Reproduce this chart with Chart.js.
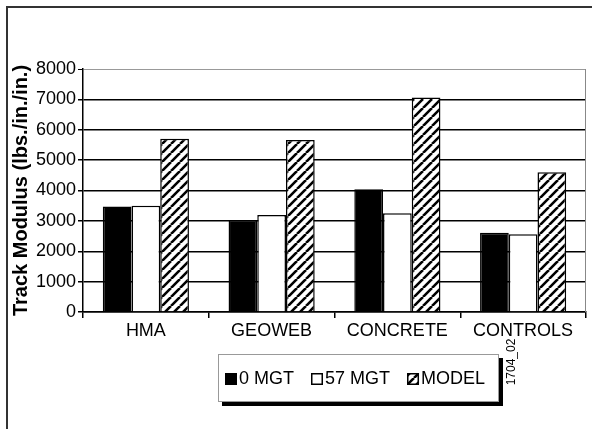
<!DOCTYPE html>
<html>
<head>
<meta charset="utf-8">
<title>Track Modulus</title>
<script src="https://cdn.jsdelivr.net/npm/chart.js@4/dist/chart.umd.min.js"></script>
<style>
    html, body { margin: 0; padding: 0; background: #fff; }
    #wrap { width: 592px; height: 429px; }
</style>
</head>
<body>
<div id="wrap"><canvas id="chart" width="592" height="429"></canvas></div>
<script>
// Chart data
const categories = ['HMA', 'GEOWEB', 'CONCRETE', 'CONTROLS'];
const seriesLabels = ['0 MGT', '57 MGT', 'MODEL'];
const mgt0Values = [3470, 3030, 4040, 2610];
const mgt57Values = [3500, 3190, 3250, 2560];
const modelValues = [5700, 5660, 7060, 4600];
const yTickValues = [0, 1000, 2000, 3000, 4000, 5000, 6000, 7000, 8000];
const yTitle = 'Track Modulus (lbs./in./in.)';
const figureId = '1704_02';

(function() {
    'use strict';

    const FONT = 'Arial, "Liberation Sans", sans-serif';

    // Diagonal hatch used for the MODEL bars
    function makeHatch() {
        const size = 9;
        const c = document.createElement('canvas');
        c.width = size;
        c.height = size;
        const g = c.getContext('2d');
        g.fillStyle = '#fff';
        g.fillRect(0, 0, size, size);
        g.strokeStyle = '#000';
        g.lineWidth = 2.6;
        g.beginPath();
        for (let k = -1; k <= 1; k++) {
            g.moveTo(k * size, size);
            g.lineTo(k * size + size, 0);
        }
        g.stroke();
        return g.createPattern(c, 'repeat');
    }

    const hatch = makeHatch();
    const fills = ['#000', '#fff', hatch];

    // Outer frame, chart area border and the boxed legend
    const decorPlugin = {
        id: 'decor',
        beforeDraw(chart) {
            const ctx = chart.ctx;
            ctx.save();
            ctx.fillStyle = '#fff';
            ctx.fillRect(0, 0, chart.width, chart.height);
            ctx.strokeStyle = '#333';
            ctx.lineWidth = 2;
            ctx.beginPath();
            ctx.moveTo(7, chart.height);
            ctx.lineTo(7, 7);
            ctx.lineTo(chart.width, 7);
            ctx.stroke();
            ctx.restore();
        },
        afterDraw(chart) {
            const ctx = chart.ctx;
            const area = chart.chartArea;
            ctx.save();

            // gray right edge of plot area
            ctx.strokeStyle = '#888';
            ctx.lineWidth = 1;
            ctx.beginPath();
            ctx.moveTo(area.right - 0.5, area.top);
            ctx.lineTo(area.right - 0.5, area.bottom);
            ctx.stroke();

            // legend box with drop shadow
            const box = { x: 218, y: 354, w: 281, h: 48 };
            ctx.fillStyle = '#000';
            ctx.fillRect(box.x + 4, box.y + 4, box.w, box.h);
            ctx.fillStyle = '#fff';
            ctx.fillRect(box.x, box.y, box.w, box.h);
            ctx.strokeStyle = '#999';
            ctx.lineWidth = 1;
            ctx.strokeRect(box.x + 0.5, box.y + 0.5, box.w - 1, box.h - 1);

            ctx.font = '18px ' + FONT;
            ctx.textBaseline = 'middle';
            ctx.fillStyle = '#000';
            let x = 225;
            const cy = box.y + box.h / 2 + 1;
            chart.data.datasets.forEach(function(ds, i) {
                ctx.fillStyle = fills[i];
                ctx.fillRect(x, cy - 6, 12, 12);
                ctx.strokeStyle = '#000';
                ctx.lineWidth = 1.5;
                ctx.strokeRect(x + 0.75, cy - 5.25, 10.5, 10.5);
                ctx.fillStyle = '#000';
                ctx.fillText(ds.label, x + 14, cy);
                x += 14 + ctx.measureText(ds.label).width + 17;
            });

            // figure id, rotated
            ctx.font = '12px ' + FONT;
            ctx.translate(512, 362);
            ctx.rotate(-Math.PI / 2);
            ctx.textAlign = 'center';
            ctx.fillText(figureId, 0, 0);
            ctx.restore();
        }
    };

    const ctx = document.getElementById('chart').getContext('2d');
    new Chart(ctx, {
        type: 'bar',
        data: {
            labels: categories,
            datasets: [
                { label: seriesLabels[0], data: mgt0Values, backgroundColor: fills[0] },
                { label: seriesLabels[1], data: mgt57Values, backgroundColor: fills[1] },
                { label: seriesLabels[2], data: modelValues, backgroundColor: fills[2] }
            ]
        },
        options: {
            responsive: false,
            animation: false,
            devicePixelRatio: 1,
            layout: { padding: { left: 0, right: 6, top: 69, bottom: 83 } },
            datasets: {
                bar: {
                    borderColor: '#000',
                    borderWidth: 1.5,
                    categoryPercentage: 0.685,
                    barPercentage: 1.0
                }
            },
            plugins: {
                legend: { display: false },
                tooltip: { enabled: false }
            },
            scales: {
                x: {
                    afterFit: function(scale) { scale.height = 34; },
                    grid: {
                        offset: true,
                        drawOnChartArea: false,
                        drawTicks: true,
                        tickLength: 6,
                        color: '#000',
                        lineWidth: 1.5
                    },
                    border: { color: '#000', width: 1.5 },
                    ticks: {
                        color: '#000',
                        padding: 2,
                        maxRotation: 0,
                        font: { family: FONT, size: 18 }
                    }
                },
                y: {
                    min: 0,
                    max: 8000,
                    afterFit: function(scale) { scale.width = 83; },
                    afterBuildTicks: function(scale) {
                        scale.ticks = yTickValues.map(v => ({ value: v }));
                    },
                    grid: {
                        color: function(c) {
                            return c.tick && c.tick.value === 8000 ? '#999' : '#000';
                        },
                        lineWidth: function(c) {
                            return c.tick && c.tick.value === 8000 ? 1 : 1.5;
                        },
                        tickColor: '#000',
                        tickLength: 5
                    },
                    border: { color: '#000', width: 1.5 },
                    ticks: {
                        color: '#000',
                        padding: 2,
                        font: { family: FONT, size: 18 },
                        callback: function(v) { return String(v); }
                    },
                    title: {
                        display: true,
                        text: yTitle,
                        color: '#000',
                        padding: { top: 9, bottom: 0 },
                        font: { family: FONT, size: 20, weight: 'bold' }
                    }
                }
            }
        },
        plugins: [decorPlugin]
    });

    console.log('chart drawn');
})();
</script>
</body>
</html>
